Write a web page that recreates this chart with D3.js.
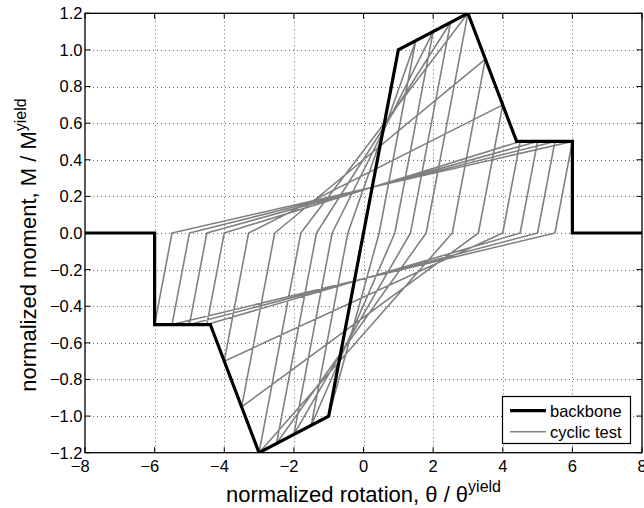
<!DOCTYPE html>
<html>
<head>
<meta charset="utf-8">
<script src="https://cdn.jsdelivr.net/npm/d3@7"></script>
<style>
  html, body { margin: 0; padding: 0; background: #fff; }
  svg { display: block; }
  text { font-family: "Liberation Sans", Arial, Helvetica, sans-serif; fill: #000; }
</style>
</head>
<body>
<svg id="chart" width="644" height="508"></svg>
<script>
// Backbone (monotonic envelope) of the normalized moment-rotation relation
const backboneTheta  = [-8, -6, -6, -4.4, -3, -1, 1, 3, 4.4, 6, 6, 8];
const backboneMoment = [0, 0, -0.5, -0.5, -1.2, -1, 1, 1.2, 0.5, 0.5, 0, 0];

// Vertices of the cyclic test response (peak-oriented hysteresis, amplitudes 1 to 6)
const cyclicTheta = [
  0, 1, 0, -1, 0,
  1, 1.5, 0.45, -1, -1.5, -0.45,
  1.5, 2, 0.9, -1.5, -2, -0.9,
  2, 2.5, 1.35, -2, -2.5, -1.35,
  2.5, 3, 1.8, -2.5, -3, -1.8,
  3, 3.5, 2.55, -3, -3.5, -2.55,
  3.5, 4, 3.3, -3.5, -4, -3.3,
  4, 4.4, 4.5, 4.0, -4, -4.4, -4.5, -4.0,
  4.5, 5, 4.5, -4.5, -5, -4.5,
  5, 5.5, 5.0, -5, -5.5, -5.0,
  5.5, 6, 5.5, -5.5, -6, -5.5,
  6
];
const cyclicMoment = [
  0, 1, 0, -1, 0,
  1, 1.05, 0, -1, -1.05, 0,
  1.05, 1.1, 0, -1.05, -1.1, 0,
  1.1, 1.15, 0, -1.1, -1.15, 0,
  1.15, 1.2, 0, -1.15, -1.2, 0,
  1.2, 0.95, 0, -1.2, -0.95, 0,
  0.95, 0.7, 0, -0.95, -0.7, 0,
  0.7, 0.5, 0.5, 0, -0.7, -0.5, -0.5, 0,
  0.5, 0.5, 0, -0.5, -0.5, 0,
  0.5, 0.5, 0, -0.5, -0.5, 0,
  0.5, 0.5, 0, -0.5, -0.5, 0,
  0.5
];

const xTicks = [-8, -6, -4, -2, 0, 2, 4, 6, 8];
const yTicks = [-1.2, -1.0, -0.8, -0.6, -0.4, -0.2, 0.0, 0.2, 0.4, 0.6, 0.8, 1.0, 1.2];
const legendLabels = ["backbone", "cyclic test"];

const svg = d3.select("#chart");
const plot = { left: 85, right: 642, top: 13.3, bottom: 452.7 };

const x = d3.scaleLinear().domain([-8, 8]).range([plot.left, plot.right]);
const y = d3.scaleLinear().domain([-1.2, 1.2]).range([plot.bottom, plot.top]);

svg.append("defs").append("clipPath").attr("id", "plotClip")
  .append("rect")
  .attr("x", plot.left).attr("y", plot.top)
  .attr("width", plot.right - plot.left).attr("height", plot.bottom - plot.top);

// dotted grid
const grid = svg.append("g").attr("class", "grid");
grid.selectAll("line.gx").data(xTicks.slice(1, -1)).join("line")
  .attr("x1", d => Math.round(x(d)) + 0.5).attr("x2", d => Math.round(x(d)) + 0.5)
  .attr("y1", plot.top).attr("y2", plot.bottom)
  .attr("stroke", "#666").attr("stroke-width", 1).attr("stroke-dasharray", "1,3");
grid.selectAll("line.gy").data(yTicks.slice(1, -1)).join("line")
  .attr("y1", d => Math.round(y(d)) + 0.5).attr("y2", d => Math.round(y(d)) + 0.5)
  .attr("x1", plot.left).attr("x2", plot.right)
  .attr("stroke", "#666").attr("stroke-width", 1).attr("stroke-dasharray", "1,3");

const line = d3.line().x(d => x(d[0])).y(d => y(d[1]));
const cyclicPts = cyclicTheta.map((t, i) => [t, cyclicMoment[i]]);
const backbonePts = backboneTheta.map((t, i) => [t, backboneMoment[i]]);

const data = svg.append("g").attr("clip-path", "url(#plotClip)");
data.append("path").datum(cyclicPts)
  .attr("d", line).attr("fill", "none")
  .attr("stroke", "#808080").attr("stroke-width", 1.6).attr("stroke-linejoin", "round");
data.append("path").datum(backbonePts)
  .attr("d", line).attr("fill", "none")
  .attr("stroke", "#000").attr("stroke-width", 3.2).attr("stroke-linejoin", "miter");

// axes box with inward ticks on all sides
const tickLen = 5.5;
const axes = svg.append("g");
axes.append("rect")
  .attr("x", plot.left).attr("y", plot.top)
  .attr("width", plot.right - plot.left).attr("height", plot.bottom - plot.top)
  .attr("fill", "none").attr("stroke", "#000").attr("stroke-width", 1.3);

const xt = axes.selectAll("g.xt").data(xTicks).join("g");
xt.append("line").attr("x1", d => x(d)).attr("x2", d => x(d))
  .attr("y1", plot.bottom).attr("y2", plot.bottom - tickLen).attr("stroke", "#000");
xt.append("line").attr("x1", d => x(d)).attr("x2", d => x(d))
  .attr("y1", plot.top).attr("y2", plot.top + tickLen).attr("stroke", "#000");
const yt = axes.selectAll("g.yt").data(yTicks).join("g");
yt.append("line").attr("y1", d => y(d)).attr("y2", d => y(d))
  .attr("x1", plot.left).attr("x2", plot.left + tickLen).attr("stroke", "#000");
yt.append("line").attr("y1", d => y(d)).attr("y2", d => y(d))
  .attr("x1", plot.right).attr("x2", plot.right - tickLen).attr("stroke", "#000");

// x tick labels: digits centred on the tick, minus sign hanging to the left
const fmtX = d3.format("d");
xTicks.forEach(v => {
  const t = axes.append("text")
    .attr("x", x(v)).attr("y", 471.5)
    .attr("text-anchor", "middle").attr("font-size", 16.5)
    .text(fmtX(Math.abs(v)));
  if (v < 0) {
    const w = t.node().getComputedTextLength();
    axes.append("text")
      .attr("x", x(v) - w / 2).attr("y", 471.5)
      .attr("text-anchor", "end").attr("font-size", 16.5)
      .text("\u2212");
  }
});

// y tick labels
const fmtY = d3.format(".1f");
axes.selectAll("text.yl").data(yTicks).join("text")
  .attr("x", 82.5).attr("y", d => y(d)).attr("dy", "0.36em")
  .attr("text-anchor", "end").attr("font-size", 16.5)
  .text(d => fmtY(d));

// axis titles
const xl = svg.append("text")
  .attr("x", (plot.left + plot.right) / 2).attr("y", 502)
  .attr("text-anchor", "middle").attr("font-size", 22);
xl.append("tspan").text("normalized rotation, \u03B8 / \u03B8");
xl.append("tspan").attr("font-size", 16).attr("dy", -10).text("yield");

const yl = svg.append("text")
  .attr("transform", "translate(35.5,245) rotate(-90)")
  .attr("text-anchor", "middle").attr("font-size", 22);
yl.append("tspan").text("normalized moment, M / M");
yl.append("tspan").attr("font-size", 16).attr("dy", -10).text("yield");

// legend
const lg = svg.append("g");
lg.append("rect")
  .attr("x", 502.5).attr("y", 396.5).attr("width", 128).attr("height", 47)
  .attr("fill", "#fff").attr("stroke", "#000").attr("stroke-width", 1.2);
const legendStyles = [
  { stroke: "#000", width: 3.2 },
  { stroke: "#808080", width: 1.6 }
];
legendLabels.forEach((lab, i) => {
  const ly = 410.7 + i * 21;
  lg.append("line").attr("x1", 510).attr("x2", 546).attr("y1", ly).attr("y2", ly)
    .attr("stroke", legendStyles[i].stroke).attr("stroke-width", legendStyles[i].width);
  lg.append("text").attr("x", 550).attr("y", ly).attr("dy", "0.36em")
    .attr("font-size", 16.5).text(lab);
});
</script>
</body>
</html>
